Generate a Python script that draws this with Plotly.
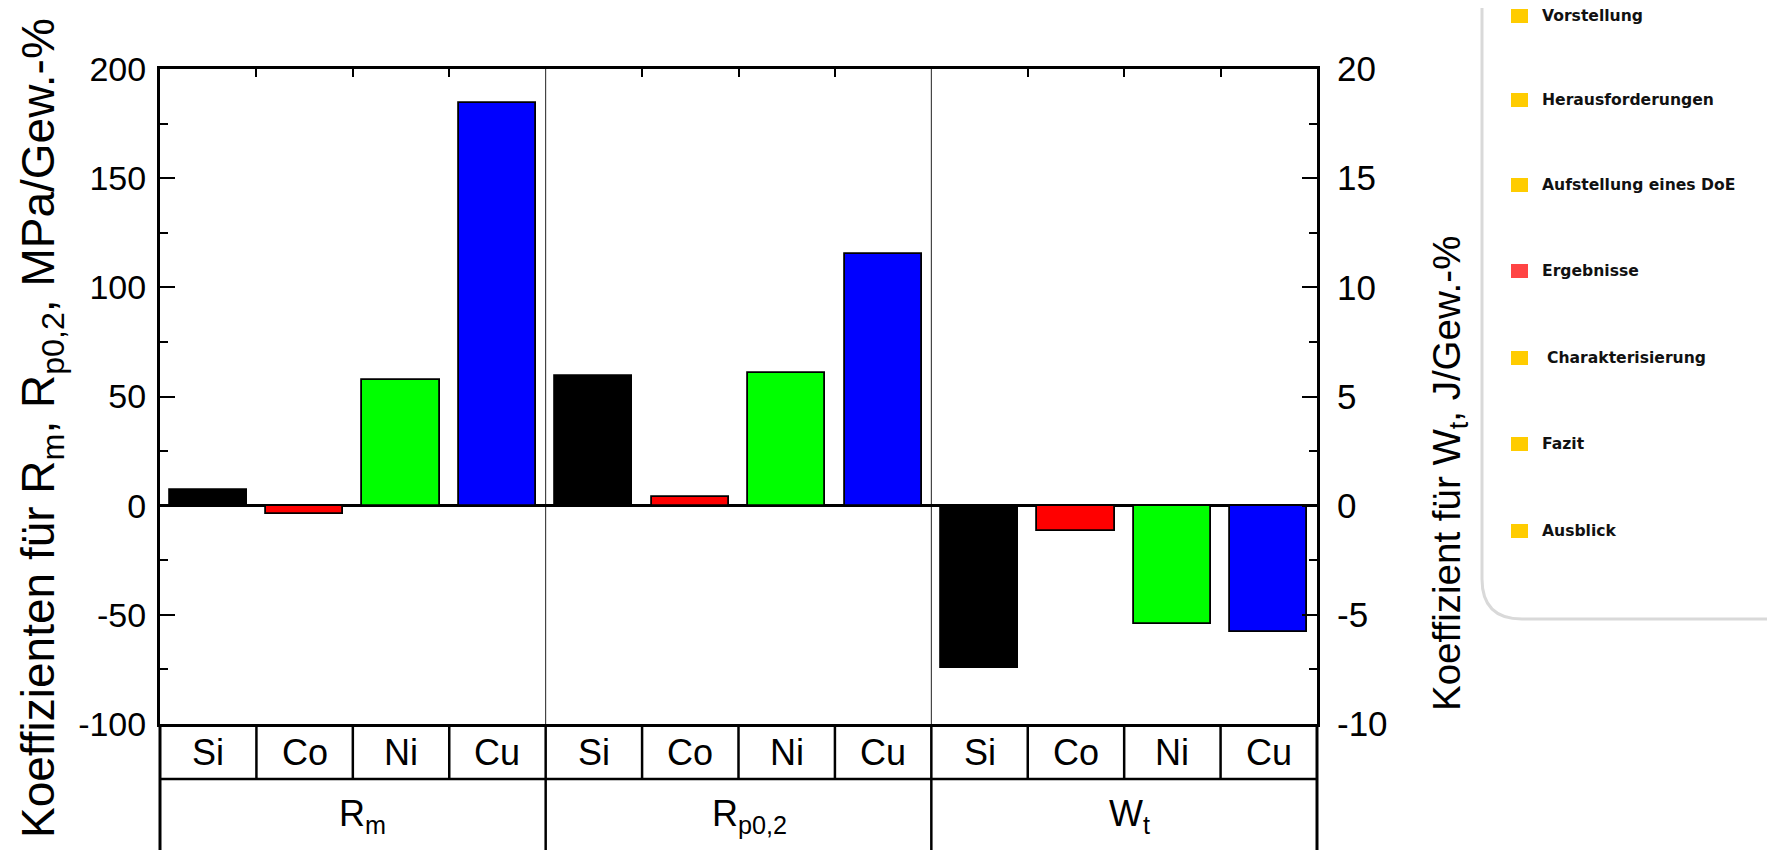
import plotly.graph_objects as go

# ---------------- data ----------------
elements = ["Si", "Co", "Ni", "Cu"]
group_labels = ["R<sub>m</sub>", "R<sub>p0,2</sub>", "W<sub>t</sub>"]
rm_values = [7.3, -4.0, 57.6, 184.5]      # MPa/Gew.-%
rp_values = [59.2, 3.8, 60.7, 115.3]      # MPa/Gew.-%
wt_values = [-7.45, -1.15, -5.42, -5.8]   # J/Gew.-% (right axis)
bar_colors = ["#000000", "#FF0000", "#00FF00", "#0000FF"]

left_ticks = [-100, -50, 0, 50, 100, 150, 200]
left_labels = ["-100", "-50", "0", "50", "100", "150", "200"]
left_minor = [-75, -25, 25, 75, 125, 175]
right_ticks = [-10, -5, 0, 5, 10, 15, 20]
right_labels = ["-10", "-5", "0", "5", "10", "15", "20"]
right_minor = [-7.5, -2.5, 2.5, 7.5, 12.5, 17.5]

nav_items = ["Vorstellung", "Herausforderungen", "Aufstellung eines DoE",
             "Ergebnisse", "Charakterisierung", "Fazit", "Ausblick"]
nav_colors = ["#FFCC00", "#FFCC00", "#FFCC00", "#FF4444",
              "#FFCC00", "#FFCC00", "#FFCC00"]

# ---------------- layout geometry (pixels) ----------------
W, H = 1775, 850
L, R, T, B = 152, 466, 61, 134
PW, PH = W - L - R, H - T - B

def px(x):
    return (x - L) / PW

def py(y):
    return (H - B - y) / PH

FONT = "Liberation Sans, Arial, sans-serif"
n = len(elements)
xs = [list(range(g * n, g * n + n)) for g in range(3)]

fig = go.Figure()
for g, vals in enumerate([rm_values, rp_values]):
    fig.add_trace(go.Bar(x=xs[g], y=vals, width=0.8,
                         marker=dict(color=bar_colors, line=dict(color="black", width=1.8)),
                         showlegend=False, yaxis="y"))
fig.add_trace(go.Bar(x=xs[2], y=wt_values, width=0.8,
                     marker=dict(color=bar_colors, line=dict(color="black", width=1.8)),
                     showlegend=False, yaxis="y2"))

cell_bounds = [i + 0.5 for i in range(3 * n - 1)]
group_bounds = [n - 0.5, 2 * n - 0.5]
inner_bounds = [b for b in cell_bounds if b not in group_bounds]

fig.update_layout(
    width=W, height=H,
    margin=dict(l=L, r=R, t=T, b=B, autoexpand=False),
    paper_bgcolor="white", plot_bgcolor="white",
    bargap=0, barmode="overlay",
    font=dict(family=FONT, color="black"),
    xaxis=dict(range=[-0.5, 3 * n - 0.5], side="top", tickvals=inner_bounds,
               ticks="inside", ticklen=8, tickwidth=2, tickcolor="black",
               showticklabels=False, showline=True, linewidth=3, linecolor="black",
               mirror=True, showgrid=False, zeroline=False),
    yaxis=dict(range=[-100, 200], tickvals=left_ticks, ticktext=left_labels,
               ticks="inside", ticklen=15, tickwidth=2, tickcolor="black", ticklabelstandoff=4,
               minor=dict(tickvals=left_minor, ticks="inside", ticklen=8, tickwidth=2, tickcolor="black"),
               tickfont=dict(size=34, family=FONT, color="black"),
               showline=True, linewidth=3, linecolor="black", showgrid=False,
               zeroline=True, zerolinecolor="black", zerolinewidth=2.5),
    yaxis2=dict(range=[-10, 20], overlaying="y", side="right", tickvals=right_ticks,
                ticktext=right_labels,
                ticks="inside", ticklen=15, tickwidth=2, tickcolor="black", ticklabelstandoff=10,
                minor=dict(tickvals=right_minor, ticks="inside", ticklen=8, tickwidth=2, tickcolor="black"),
                tickfont=dict(size=35, family=FONT, color="black"),
                showline=True, linewidth=3, linecolor="black", showgrid=False, zeroline=False),
)

shapes = []
# thin group separators inside the plot
for b in group_bounds:
    shapes.append(dict(type="line", xref="x", yref="y", x0=b, x1=b, y0=-100, y1=200,
                       line=dict(color="#222222", width=1), layer="below"))

row1 = py(771)
bottom = py(848)
lw = 2.5
for b in inner_bounds:
    shapes.append(dict(type="line", xref="x", yref="paper", x0=b, x1=b, y0=0, y1=row1,
                       line=dict(color="black", width=lw)))
for b in group_bounds:
    shapes.append(dict(type="line", xref="x", yref="paper", x0=b, x1=b, y0=0, y1=bottom,
                       line=dict(color="black", width=lw)))
for xv in [0, 1]:
    shapes.append(dict(type="line", xref="paper", yref="paper", x0=xv, x1=xv, y0=0, y1=bottom,
                       line=dict(color="black", width=3)))
for yv in [row1, bottom]:
    shapes.append(dict(type="line", xref="paper", yref="paper", x0=0, x1=1, y0=yv, y1=yv,
                       line=dict(color="black", width=lw)))
# small white gap in the bottom border under W_t
shapes.append(dict(type="rect", xref="paper", yref="paper", x0=px(1031), x1=px(1166),
                   y0=py(851), y1=py(846), fillcolor="white", line=dict(width=0)))

# sidebar rounded border
sx, sy, rad = 1474, 611, 40
path = (f"M {px(sx)},{py(-20)} L {px(sx)},{py(sy - rad)} "
        f"Q {px(sx)},{py(sy)} {px(sx + rad)},{py(sy)} L {px(1800)},{py(sy)}")
shapes.append(dict(type="path", xref="paper", yref="paper", path=path,
                   line=dict(color="#D9D9D9", width=3)))

annotations = []
nav_y = [8.0, 92.0, 177.0, 263.0, 350.0, 436.0, 523.0]
for i, (item, col) in enumerate(zip(nav_items, nav_colors)):
    yc = nav_y[i]
    shapes.append(dict(type="rect", xref="paper", yref="paper",
                       x0=px(1503), x1=px(1520), y0=py(yc + 7), y1=py(yc - 7),
                       fillcolor=col, line=dict(width=0)))
    tx = 1538 if item == "Charakterisierung" else 1533
    annotations.append(dict(text=item, xref="paper", yref="paper", x=px(tx), y=py(yc),
                            xanchor="left", yanchor="middle", showarrow=False, borderpad=0,
                            font=dict(family="DejaVu Sans, Verdana, sans-serif", size=15.6,
                                      color="#111111", weight="bold")))

# table labels
group_shift = [10, 11, 5]
for g in range(3):
    for i, el in enumerate(elements):
        annotations.append(dict(text=el, xref="x", yref="paper", x=xs[g][i], y=py(744),
                                xanchor="center", yanchor="middle", showarrow=False,
                                font=dict(size=36, family=FONT, color="black")))
    annotations.append(dict(text=group_labels[g], xref="x", yref="paper",
                            x=(xs[g][0] + xs[g][-1]) / 2, y=py(808), xshift=group_shift[g],
                            xanchor="center", yanchor="middle", showarrow=False,
                            font=dict(size=36, family=FONT, color="black")))

# axis titles
annotations.append(dict(text="Koeffizienten für R<sub>m</sub>, R<sub>p0,2</sub>, MPa/Gew.-%",
                        xref="paper", yref="paper", x=px(33), y=py(420), textangle=-90,
                        xanchor="center", yanchor="middle", showarrow=False,
                        font=dict(size=46, family=FONT, color="black")))
annotations.append(dict(text="Koeffizient für W<sub>t</sub>, J/Gew.-%",
                        xref="paper", yref="paper", x=px(1441), y=py(466), textangle=-90,
                        xanchor="center", yanchor="middle", showarrow=False,
                        font=dict(size=38.5, family=FONT, color="black")))

fig.update_layout(shapes=shapes, annotations=annotations)
fig.write_html("out.html")
